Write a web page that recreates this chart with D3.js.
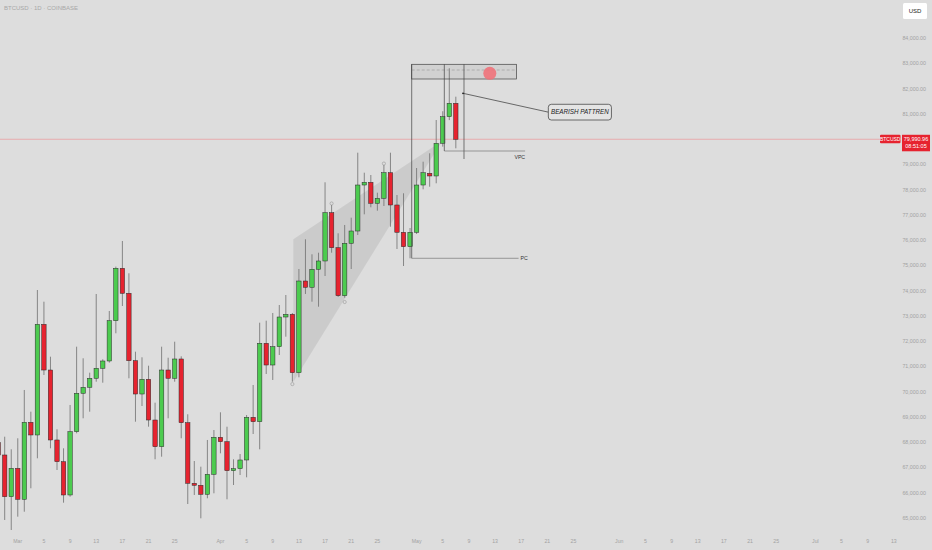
<!DOCTYPE html>
<html><head><meta charset="utf-8">
<script src="https://cdn.jsdelivr.net/npm/d3@7"></script>
<style>html,body{margin:0;padding:0;background:#dddddd;}svg{display:block;font-family:"Liberation Sans",Arial,sans-serif;}</style>
</head><body>
<svg id="c" width="932" height="550"></svg>
<script>
// ---- data (daily candles, first candle = 2025-02-26) ----
const startDate = "2025-02-26";
const opens  = [67981,67494,65843,66967,65740,68788,68286,72667,70858,68088,67229,65911,68416,69936,70174,70530,70926,71215,72810,74884,73894,71227,69908,70490,68879,67822,70858,70530,71294,68772,66374,66295,65938,66730,68195,68020,66873,66952,67296,68986,68812,71915,71056,71781,72956,73063,70752,74381,74132,74844,75173,77085,75699,73799,75873,76360,78181,78288,77457,77655,78668,77390,76309,75739,76309,78181,78644,78538,79832,80885,81415];
const highs  = [68400,68218,67719,68155,70067,69208,74025,73562,71385,68511,67759,69473,71781,71322,70752,73867,71282,73194,74950,75965,74686,71583,71361,71029,69564,71781,71345,71979,71400,69105,67256,67031,68088,68483,69184,68614,67324,67533,69077,70265,72731,72810,73115,73431,73827,73115,74856,76032,75438,75501,78288,77390,76269,76598,76887,79460,78668,78577,77876,78973,79460,77785,77853,76479,78854,79104,79436,80754,81100,82801,81676];
const lows   = [67000,64921,64525,65052,65249,66176,67363,70661,67759,66900,65606,65843,68353,68947,69208,70395,70356,71150,72311,73392,70530,68812,69433,68614,67324,67427,68947,70395,68155,65554,65911,64988,65780,65978,67561,65740,66306,66702,66611,68325,67719,70700,70463,71452,72177,70395,70569,73867,73562,73364,74579,75501,73750,73720,74856,76202,77021,77299,77164,77350,76531,75648,74975,75280,76242,78011,78114,78249,79700,80750,79634];
const closes = [67494,65843,66967,65740,68788,68286,72667,70858,68088,67229,65911,68416,69936,70174,70530,70926,71215,72810,74884,73894,71227,69908,70490,68879,67822,70858,70530,71294,68772,66374,66295,65938,66730,68195,68020,66873,66952,67296,68986,68812,71915,71056,71781,72956,73063,70752,74381,74132,74844,75173,77085,75699,73799,75873,76360,78181,78288,77457,77655,78668,77390,76309,75739,76309,78181,78668,78538,79832,80885,81415,79990.96];

const yTicks = [65000,66000,67000,68000,69000,70000,71000,72000,73000,74000,75000,76000,77000,78000,79000,80000,81000,82000,83000,84000];
const xTickDates  = ["2025-03-01","2025-03-05","2025-03-09","2025-03-13","2025-03-17","2025-03-21","2025-03-25",
                     "2025-04-01","2025-04-05","2025-04-09","2025-04-13","2025-04-17","2025-04-21","2025-04-25",
                     "2025-05-01","2025-05-05","2025-05-09","2025-05-13","2025-05-17","2025-05-21","2025-05-25",
                     "2025-06-01","2025-06-05","2025-06-09","2025-06-13","2025-06-17","2025-06-21","2025-06-25",
                     "2025-07-01","2025-07-05","2025-07-09","2025-07-13"];
const xTickLabels = ["Mar","5","9","13","17","21","25","Apr","5","9","13","17","21","25",
                     "May","5","9","13","17","21","25","Jun","5","9","13","17","21","25","Jul","5","9","13"];

const lastPrice = 79990.96;
const symbol = "BTCUSD";
const countdown = "08:51:05";
const title = "BTCUSD · 1D · COINBASE";

// annotations in (candle index, price)
const wedge = [[45.14,76032],[67.9,79923],[45.14,70383]];
const zoneBox = {i0:63.25, i1:79.3, p0:82959, p1:82377, mid:82733};
const zoneDot = {i:75.2, p:82603};
const pcLine = {i0:63.25, i1:79.6, top:82959, p:75280, label:"PC"};
const vpcLines = {i0:68.24, i1:71.25, top:82959, p:79527, p1:79210, iEnd:80.6, label:"VPC"};
const callout = {ai:71.1, ap:81811, bi0:84.15, bi1:93.8, bp0:81376, bp1:80754, text:"BEARISH PATTREN"};
const markers = [[45,70300],[51,77450],[53,73550],[59,79030]];

// ---- scales ----
const DAY = 86400000;
const t0 = new Date(startDate + "T00:00:00Z");
const n = closes.length;
const x = d3.scaleUtc().domain([t0, new Date(+t0 + (n-1)*DAY)]).range([-1.84, -1.84 + (n-1)*6.538]);
const y = d3.scaleLinear().domain([65000, 84000]).range([518, 38]);
const xi = i => x(new Date(+t0 + i*DAY));

const svg = d3.select("#c");
const GREEN = "#4ccb4f", RED = "#e6232f";

svg.append("rect").attr("width",932).attr("height",550).attr("fill","#dddddd");

// wedge
svg.append("path").attr("d", d3.line()(wedge.map(d=>[xi(d[0]), y(d[1])])) + "Z")
  .attr("fill","rgba(0,0,0,0.08)");

// current price line
svg.append("line").attr("x1",0).attr("x2",880).attr("y1",y(lastPrice)).attr("y2",y(lastPrice))
  .attr("stroke","#ef8a8f").attr("stroke-width",0.6);

// candles
const data = closes.map((c,i)=>({i, o:opens[i], h:highs[i], l:lows[i], c}));
const g = svg.append("g");
g.selectAll(".w").data(data).join("line")
  .attr("x1",d=>xi(d.i)).attr("x2",d=>xi(d.i)).attr("y1",d=>y(d.h)).attr("y2",d=>y(d.l))
  .attr("stroke","#6e6e6e").attr("stroke-width",0.8);
const bw = 4.4;
g.selectAll(".b").data(data).join("rect")
  .attr("x",d=>xi(d.i)-bw/2).attr("width",bw)
  .attr("y",d=>y(Math.max(d.o,d.c))).attr("height",d=>Math.max(1,Math.abs(y(d.o)-y(d.c))))
  .attr("fill",d=>d.c>=d.o?GREEN:RED).attr("stroke","#2a2a2a").attr("stroke-width",0.5);

// markers
svg.selectAll(".mk").data(markers).join("circle")
  .attr("cx",d=>xi(d[0])).attr("cy",d=>y(d[1])).attr("r",1.6)
  .attr("fill","none").attr("stroke","#8a8a8a").attr("stroke-width",0.5);

// zone box
svg.append("rect").attr("x",xi(zoneBox.i0)).attr("y",y(zoneBox.p0))
  .attr("width",xi(zoneBox.i1)-xi(zoneBox.i0)).attr("height",y(zoneBox.p1)-y(zoneBox.p0))
  .attr("fill","rgba(0,0,0,0.05)").attr("stroke","#444").attr("stroke-width",0.7);
svg.append("line").attr("x1",xi(zoneBox.i0)).attr("x2",xi(zoneBox.i1)).attr("y1",y(zoneBox.mid)).attr("y2",y(zoneBox.mid))
  .attr("stroke","#999").attr("stroke-width",0.6).attr("stroke-dasharray","3,2");
svg.append("circle").attr("cx",xi(zoneDot.i)).attr("cy",y(zoneDot.p)).attr("r",6.5)
  .attr("fill","#f0727a").attr("opacity",0.9);

// PC
const L = (x1,y1,x2,y2,c="#444",w=0.7)=>svg.append("line").attr("x1",x1).attr("y1",y1).attr("x2",x2).attr("y2",y2).attr("stroke",c).attr("stroke-width",w);
L(xi(pcLine.i0), y(pcLine.top), xi(pcLine.i0), y(pcLine.p));
L(xi(pcLine.i0), y(pcLine.p), xi(pcLine.i1), y(pcLine.p), "#666", 0.6);
svg.append("text").attr("x",xi(pcLine.i1)+2).attr("y",y(pcLine.p)+2).attr("font-size",5.2).attr("fill","#333").text(pcLine.label);

// VPC
L(xi(vpcLines.i0), y(vpcLines.top), xi(vpcLines.i0), y(vpcLines.p));
L(xi(vpcLines.i1), y(vpcLines.top), xi(vpcLines.i1), y(vpcLines.p1));
L(xi(vpcLines.i0), y(vpcLines.p), xi(vpcLines.iEnd), y(vpcLines.p), "#666", 0.6);
svg.append("text").attr("x",xi(vpcLines.iEnd)).attr("y",y(vpcLines.p)+7.5).attr("text-anchor","end")
  .attr("font-size",5.2).attr("fill","#333").text(vpcLines.label);

// callout
const bx0 = xi(callout.bi0), bx1 = xi(callout.bi1), by0 = y(callout.bp0), by1 = y(callout.bp1);
L(xi(callout.ai), y(callout.ap), bx0, (by0+by1)/2, "#333", 0.7);
svg.append("circle").attr("cx",xi(callout.ai)).attr("cy",y(callout.ap)).attr("r",0.9).attr("fill","#222");
svg.append("rect").attr("x",bx0).attr("y",by0).attr("width",bx1-bx0).attr("height",by1-by0)
  .attr("rx",3).attr("fill","#e4e4e4").attr("stroke","#333").attr("stroke-width",0.7);
svg.append("text").attr("x",(bx0+bx1)/2).attr("y",(by0+by1)/2+2.2).attr("text-anchor","middle")
  .attr("font-size",6.3).attr("font-style","italic").attr("fill","#222").text(callout.text);

// y axis labels (labels hidden behind the last-price tag are skipped)
const py = y(lastPrice);
svg.selectAll(".yl").data(yTicks.filter(d=>Math.abs(y(d)-py) > 12)).join("text")
  .attr("x",926).attr("y",d=>y(d)+2).attr("text-anchor","end").attr("font-size",5.3).attr("fill","#a2a2a2")
  .text(d=>d3.format(",.2f")(d));

// x axis labels
svg.selectAll(".xl").data(xTickDates).join("text")
  .attr("x",d=>x(new Date(d+"T00:00:00Z"))).attr("y",543).attr("text-anchor","middle").attr("font-size",5.2).attr("fill","#a2a2a2")
  .text((d,i)=>xTickLabels[i]);

// last price labels
svg.append("rect").attr("x",880).attr("y",py-4.5).attr("width",20.5).attr("height",8.5).attr("fill",RED).attr("rx",1);
svg.append("text").attr("x",890.2).attr("y",py+1.8).attr("text-anchor","middle").attr("font-size",5).attr("fill","#fff").text(symbol);
svg.append("rect").attr("x",902).attr("y",py-4.5).attr("width",28).attr("height",16.5).attr("fill",RED);
svg.append("text").attr("x",916).attr("y",py+1.9).attr("text-anchor","middle").attr("font-size",5.5).attr("fill","#fff").text(d3.format(",.2f")(lastPrice));
svg.append("text").attr("x",916).attr("y",py+9.2).attr("text-anchor","middle").attr("font-size",5.5).attr("fill","#fff").text(countdown);

// USD box
svg.append("rect").attr("x",903).attr("y",3).attr("width",24).attr("height",16).attr("rx",1.5).attr("fill","#fff");
svg.append("text").attr("x",915).attr("y",13.2).attr("text-anchor","middle").attr("font-size",6).attr("fill","#222").text("USD");

// title
svg.append("text").attr("x",4).attr("y",10).attr("font-size",6).attr("fill","#a8a8a8").text(title);
</script>
</body></html>
